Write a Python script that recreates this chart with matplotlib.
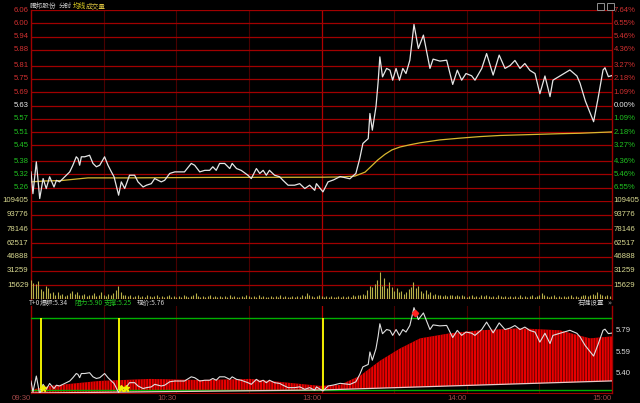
import matplotlib
matplotlib.use('Agg')
import matplotlib.pyplot as plt
import numpy as np
from matplotlib.transforms import blended_transform_factory as btf
from matplotlib.patches import Rectangle

plt.rcParams['hatch.linewidth'] = 0.5

# ---------------- data ----------------
prev_close = 5.63
price_levels = [6.06, 6.00, 5.94, 5.88, 5.81, 5.75, 5.69, 5.63, 5.57, 5.51, 5.45, 5.38, 5.32, 5.26]
pct_labels = ['7.64%', '6.55%', '5.46%', '4.36%', '3.27%', '2.18%', '1.09%', '0.00%',
              '1.09%', '2.18%', '3.27%', '4.36%', '5.46%', '6.55%']
vol_levels = [109405, 93776, 78146, 62517, 46888, 31259, 15629]
time_ticks = [0, 60, 120, 180, 240]
time_labels = ['09:30', '10:30', '13:00', '14:00', '15:00']

price_t = [0, 0.8, 2.2, 3.6, 5.0, 6.3, 7.7, 9.5, 10.5, 11.8, 13.2, 14.6, 16.0, 17.3, 18.7,
           19.4, 20.1, 20.8, 22.2, 24.2, 25.6, 27.0, 28.4, 30.4, 31.8, 33.2, 34.3, 36.2,
           37.3, 38.7, 40.7, 42.8, 44.2, 46.3, 47.7, 49.7, 51.1, 53.8, 55.2, 57.3, 59.4,
           63.4, 66.2, 67.6, 69.7, 71.8, 73.8, 75.1, 76.5, 77.9, 80.0, 82.1, 83.1, 84.9,
           86.8, 89.6, 91.0, 93.1, 94.5, 95.9, 97.2, 98.5, 100.6, 102.7, 104.1, 106.2,
           108.9, 111.0, 113.1, 115.1, 117.2, 117.9, 120.6, 122.7, 125.0, 127.7, 131.7,
           134.2, 135.8, 137.1, 139.3, 140.0, 141.0, 142.5, 143.4, 144.1, 145.2, 146.9,
           148.3, 149.4, 150.8, 152.2, 153.6, 154.9, 156.5, 158.2, 160.0, 162.1, 164.8,
           166.1, 168.9, 171.7, 174.2, 176.1, 177.9, 179.7, 182.0, 183.4, 186.2, 188.2,
           190.9, 193.4, 195.8, 197.9, 199.9, 202.0, 204.0, 206.1, 208.2, 210.2, 212.3,
           214.4, 215.6, 218.5, 222.6, 225.5, 226.8, 229.0, 232.4, 234.2, 236.3, 237.1,
           238.5, 240.0]
price_v = [5.331, 5.233, 5.376, 5.211, 5.301, 5.256, 5.309, 5.263, 5.293, 5.286, 5.301, 5.316,
           5.331, 5.361, 5.399, 5.391, 5.361, 5.399, 5.399, 5.406, 5.369, 5.354, 5.361, 5.399,
           5.361, 5.331, 5.309, 5.226, 5.286, 5.256, 5.316, 5.316, 5.286, 5.263, 5.271, 5.278,
           5.301, 5.286, 5.293, 5.324, 5.331, 5.331, 5.369, 5.361, 5.331, 5.338, 5.338, 5.354,
           5.338, 5.369, 5.369, 5.346, 5.369, 5.346, 5.338, 5.316, 5.301, 5.346, 5.324, 5.338,
           5.316, 5.338, 5.316, 5.309, 5.293, 5.271, 5.271, 5.278, 5.256, 5.271, 5.248, 5.278,
           5.241, 5.286, 5.295, 5.310, 5.300, 5.324, 5.391, 5.459, 5.481, 5.594, 5.519, 5.624,
           5.737, 5.849, 5.759, 5.797, 5.789, 5.744, 5.797, 5.744, 5.797, 5.774, 5.834, 5.995,
           5.887, 5.947, 5.797, 5.839, 5.830, 5.834, 5.725, 5.789, 5.744, 5.774, 5.764, 5.744,
           5.797, 5.864, 5.767, 5.857, 5.797, 5.810, 5.833, 5.797, 5.819, 5.788, 5.774, 5.683,
           5.763, 5.670, 5.744, 5.763, 5.790, 5.763, 5.730, 5.650, 5.557, 5.660, 5.790, 5.800,
           5.760, 5.765]

avg_t = [0, 5.7, 12.6, 18, 23.5, 40, 73, 120, 127.6, 133.8, 138, 140.9, 143.3, 146.2, 149.1,
         152.4, 156.5, 160.7, 168.9, 177.2, 185.5, 193.7, 206.1, 218.5, 226.8, 240]
avg_v = [5.286, 5.29, 5.292, 5.298, 5.304, 5.304, 5.306, 5.307, 5.308, 5.312, 5.33, 5.36,
         5.385, 5.41, 5.43, 5.443, 5.453, 5.462, 5.475, 5.483, 5.49, 5.495, 5.499, 5.503,
         5.505, 5.511]

volume_k = [21, 18, 17, 20, 11, 9, 15, 12, 7, 8,
            5, 8, 4, 6, 3, 5, 7, 9, 6, 8,
            5, 4, 6, 3, 5, 4, 7, 3, 5, 8,
            4, 3, 6, 4, 7, 10, 14, 8, 5, 4,
            3, 4, 2, 3, 5, 2, 3, 2, 4, 3,
            2, 3, 4, 2, 3, 2, 3, 4, 2, 3,
            2, 3, 2, 4, 3, 2, 3, 5, 7, 3,
            2, 3, 2, 3, 4, 2, 3, 2, 3, 2,
            3, 2, 4, 2, 3, 2, 2, 3, 2, 4,
            3, 2, 3, 2, 4, 2, 3, 2, 2, 3,
            2, 3, 2, 4, 2, 3, 2, 2, 3, 2,
            3, 2, 4, 3, 7, 5, 3, 2, 3, 4,
            3, 2, 3, 2, 3, 2, 2, 3, 2, 3,
            2, 3, 2, 4, 3, 4, 5, 6, 4, 10,
            15, 13, 17, 21, 30, 14, 23, 12, 19, 13,
            9, 12, 8, 9, 6, 8, 11, 13, 19, 12,
            14, 9, 7, 10, 6, 8, 5, 6, 4, 5,
            3, 4, 3, 5, 4, 3, 4, 3, 5, 3,
            2, 3, 4, 2, 3, 2, 4, 3, 5, 3,
            2, 3, 2, 4, 3, 2, 3, 2, 3, 2,
            3, 2, 4, 2, 3, 2, 3, 4, 2, 3,
            5, 7, 4, 3, 2, 3, 4, 2, 3, 2,
            3, 2, 3, 4, 2, 3, 2, 3, 4, 5,
            3, 4, 6, 5, 8, 6, 4, 3, 4, 3,
            9]

# T+0 indicator panel
t0_top_t = [0, 1.7, 7.8, 28.5, 49.2, 69.8, 90.5, 111.1, 119.4, 127.6, 135.9, 144.2, 152.4,
            160.7, 173.1, 185.5, 202, 218.5, 230.9, 240]
t0_top_v = [5.24, 5.259, 5.287, 5.332, 5.35, 5.34, 5.35, 5.305, 5.287, 5.296, 5.378, 5.515,
            5.625, 5.717, 5.763, 5.79, 5.808, 5.79, 5.717, 5.735]
t0_base_t = [0, 120, 240]
t0_base_v = [5.222, 5.25, 5.332]
resist, support, burst, last = 5.90, 5.25, 5.34, 5.76
signal_t = [4.1, 36.3, 120.6]
star_t = [5.0, 37.2, 39.2]
top_mark_t, top_mark_v = 158.5, 5.95
t0_right_levels = [5.79, 5.59, 5.40]

# ---------------- drawing ----------------
W, H = 640, 403
fig = plt.figure(figsize=(6.4, 4.03), dpi=100, facecolor='black')
L, R = 31, 612

def rect(top, bottom):
    return [L / W, (H - bottom) / H, (R - L) / W, (bottom - top) / H]

ax1 = fig.add_axes(rect(10, 201))
ax2 = fig.add_axes(rect(201, 299))
ax3 = fig.add_axes(rect(306, 393))

GRID = '#a00000'
VGRID = '#4a0000'
NUMF = ['Liberation Sans Narrow', 'Liberation Sans', 'DejaVu Sans']
CJK = ['Noto Sans CJK SC', 'DejaVu Sans']
FS = 5.6
CFS = 4.8

for ax in (ax1, ax2, ax3):
    ax.set_facecolor('black')
    ax.set_xlim(0, 240)
    ax.set_xticks([])
    ax.set_yticks([])
    for k, s in ax.spines.items():
        if k in ('left', 'right'):
            s.set_color(GRID)
            s.set_linewidth(1.0)
        else:
            s.set_visible(False)
    for m in (30, 60, 90, 150, 180, 210):
        ax.axvline(m, color=VGRID, lw=0.8, zorder=0)
    ax.axvline(120, color='#b00000', lw=0.9, zorder=0)

# price panel
lo = prev_close * (1 - 0.0764)
hi = prev_close * (1 + 0.0764)
ax1.set_ylim(lo, hi)
tr1 = btf(ax1.transAxes, ax1.transData)
for lv, pl in zip(price_levels, pct_labels):
    ax1.axhline(lv, color=GRID, lw=0.9, zorder=0)
    if lv > prev_close:
        c = '#d03030'
    elif abs(lv - prev_close) < 1e-9:
        c = '#e8e8e8'
    else:
        c = '#20c020'
    ax1.text(-0.004, lv, f'{lv:.2f}', transform=tr1, ha='right', va='center',
             color=c, fontsize=FS, family=NUMF)
    ax1.text(1.003, lv, pl, transform=tr1, ha='left', va='center',
             color=c, fontsize=FS, family=NUMF)
ax1.plot(avg_t, avg_v, color='#d8b830', lw=0.9, zorder=3)
ax1.plot(price_t, price_v, color='#e6e6e6', lw=0.9, zorder=4)

# volume panel
ax2.set_ylim(0, vol_levels[0])
tr2 = btf(ax2.transAxes, ax2.transData)
for lv in vol_levels:
    ax2.axhline(lv, color=GRID, lw=0.9, zorder=0)
    ax2.text(-0.004, lv, str(lv), transform=tr2, ha='right', va='center',
             color='#d8d890', fontsize=FS, family=NUMF)
    ax2.text(1.003, lv, str(lv), transform=tr2, ha='left', va='center',
             color='#d8d890', fontsize=FS, family=NUMF)
ax2.axhline(0, color=GRID, lw=1.0, zorder=0)
vols = [v * 1000 for v in volume_k]
ax2.vlines(range(len(vols)), 0, vols, color='#b8b048', lw=0.8, zorder=3)

# T+0 panel
ylo = support - 3 / 109.2
yhi = resist + 12 / 109.2
ax3.set_ylim(ylo, yhi)
ax3.spines['bottom'].set_visible(True)
ax3.spines['bottom'].set_color(GRID)
base_on_top = np.interp(t0_top_t, t0_base_t, t0_base_v)
ax3.fill_between(t0_top_t, base_on_top, t0_top_v, where=np.array(t0_top_v) >= base_on_top,
                 facecolor='#e80000', edgecolor='#400000', hatch='||||||', lw=0, zorder=2)
ax3.axhline(resist, color='#00b000', lw=1.0, zorder=3)
ax3.axhline(support, color='#00b000', lw=1.0, zorder=3)
ax3.plot(t0_base_t, t0_base_v, color='#e8c8c8', lw=0.9, zorder=4)
ax3.vlines(signal_t, support, resist, color='#f0f000', lw=1.4, zorder=5)
ax3.plot(star_t, [support + 0.015] * len(star_t), ls='none', marker='*', ms=5,
         color='#f0f000', zorder=6)
ax3.plot(price_t, price_v, color='#e0e0e0', lw=0.8, zorder=5)
ax3.plot([top_mark_t], [top_mark_v], ls='none', marker='D', ms=3.2, color='#ff2020', zorder=6)
tr3 = btf(ax3.transAxes, ax3.transData)
for lv in t0_right_levels:
    ax3.text(1.006, lv, f'{lv:.2f}', transform=tr3, ha='left', va='center',
             color='#d8d8d8', fontsize=FS, family=NUMF)

# time labels
trx = btf(ax3.transData, ax3.transAxes)
for tt, tl in zip(time_ticks, time_labels):
    ax3.text(tt, -5 / 87, tl, transform=trx, ha='right', va='center',
             color='#a04848', fontsize=FS, family=NUMF)

# T+0 legend text
def ftext(x, y, s, c, fam=CJK, fs=CFS):
    fig.text(x / W, 1 - y / H, s, color=c, fontsize=fs, family=fam, ha='left', va='center')

ftext(29, 303, 'T+0', '#d0d0d0')
ftext(40, 303, f'爆额:{burst:.2f}', '#d0d0d0')
ftext(74, 303, f'阻力:{resist:.2f}', '#20c020')
ftext(104, 303, f'支撑:{support:.2f}', '#20c020')
ftext(137, 303, f'现价:{last:.2f}', '#d0d0d0')
ftext(578, 303, '右键设置', '#d0d0d0')
ftext(607, 303, '»', '#a0a0a0', fam=['DejaVu Sans'])

# title
ftext(30, 6, '騰邦股份', '#c8c8c8')
ftext(59, 6, '分时', '#c8c8c8')
ftext(73, 6, '均线', '#e0d020')
ftext(86, 6, '成交量', '#d8c040')

for x0 in (597, 607):
    fig.patches.append(Rectangle((x0 / W, 1 - 10 / H), 7 / W, 7 / H, transform=fig.transFigure,
                                 facecolor='none', edgecolor='#909090', lw=0.7))

fig.savefig('out.png', dpi=100, facecolor='black')
